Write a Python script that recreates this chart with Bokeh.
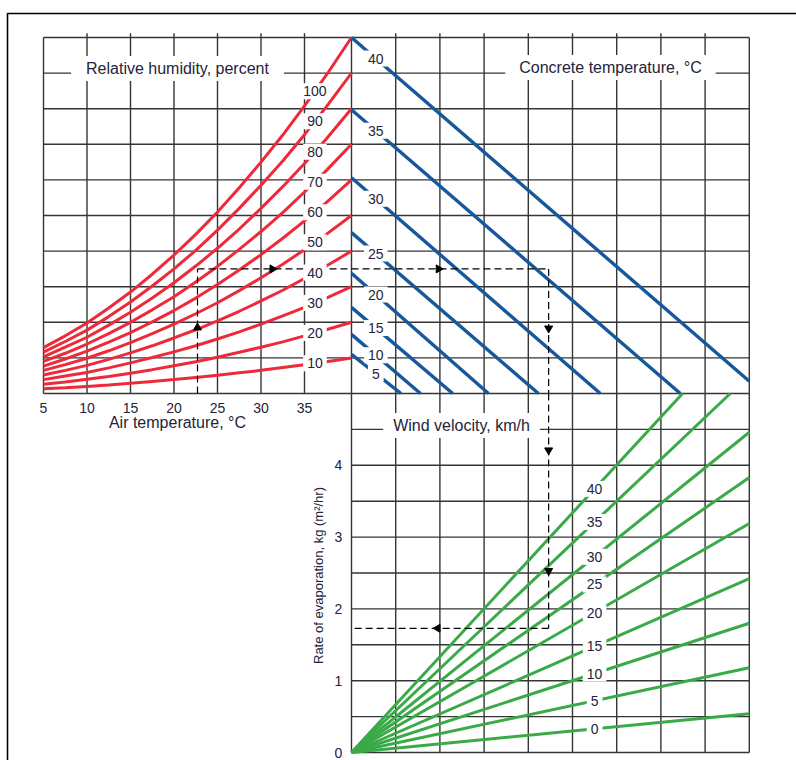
import math
import numpy as np
from bokeh.plotting import figure
from bokeh.models import Range1d
from bokeh.core.properties import value
from bokeh.embed import file_html
from bokeh.resources import INLINE

# ------------------------------------------------------------------ data
# upper-left quadrant: relative humidity curves (vapour scale, 0..10 grid units)
air_temp = [5, 7.5, 10, 12.5, 15, 17.5, 20, 22.5, 25, 27.5, 30, 32.5, 35, 37.5, 40.4]
rh_levels = [100, 90, 80, 70, 60, 50, 40, 30, 20, 10]
rh_100 = [1.29, 1.62, 1.98, 2.40, 2.85, 3.35, 3.89, 4.47, 5.10, 5.78, 6.50, 7.26, 8.08, 8.94, 10.0]
rh_90 = [1.16, 1.46, 1.78, 2.16, 2.57, 3.02, 3.50, 4.02, 4.59, 5.20, 5.85, 6.53, 7.27, 8.05, 9.0]
rh_80 = [1.03, 1.30, 1.58, 1.92, 2.28, 2.68, 3.11, 3.58, 4.08, 4.62, 5.20, 5.81, 6.46, 7.15, 8.0]
rh_70 = [0.90, 1.13, 1.39, 1.68, 2.00, 2.35, 2.72, 3.13, 3.57, 4.05, 4.55, 5.08, 5.66, 6.26, 7.0]
rh_60 = [0.77, 0.97, 1.19, 1.44, 1.71, 2.01, 2.33, 2.68, 3.06, 3.47, 3.90, 4.36, 4.85, 5.36, 6.0]
rh_50 = [0.65, 0.81, 0.99, 1.20, 1.43, 1.68, 1.95, 2.24, 2.55, 2.89, 3.25, 3.63, 4.04, 4.47, 5.0]
rh_40 = [0.52, 0.65, 0.79, 0.96, 1.14, 1.34, 1.56, 1.79, 2.04, 2.31, 2.60, 2.90, 3.23, 3.58, 4.0]
rh_30 = [0.39, 0.49, 0.59, 0.72, 0.86, 1.01, 1.17, 1.34, 1.53, 1.73, 1.95, 2.18, 2.42, 2.68, 3.0]
rh_20 = [0.26, 0.32, 0.40, 0.48, 0.57, 0.67, 0.78, 0.89, 1.02, 1.16, 1.30, 1.45, 1.62, 1.79, 2.0]
rh_10 = [0.13, 0.16, 0.20, 0.24, 0.29, 0.34, 0.39, 0.45, 0.51, 0.58, 0.65, 0.73, 0.81, 0.89, 1.0]
rh_curves = [rh_100, rh_90, rh_80, rh_70, rh_60, rh_50, rh_40, rh_30, rh_20, rh_10]
air_ticks = [5, 10, 15, 20, 25, 30, 35]

# upper-right quadrant: concrete temperature lines
concrete_temps = [40, 35, 30, 25, 20, 15, 10, 5]
concrete_start = [10.0, 7.97, 6.06, 4.52, 3.38, 2.42, 1.66, 1.10]   # value at the divider
concrete_zero = [9.32, 7.44, 5.63, 4.23, 3.10, 2.29, 1.56, 1.12]    # grid unit where line reaches 0

# lower-right quadrant: wind velocity lines (from origin)
wind_speeds = [0, 5, 10, 15, 20, 25, 30, 35, 40]
wind_end_grid = [9, 9, 9, 9, 9, 9, 9, 8.57, 7.49]
wind_end_rate = [0.54, 1.18, 1.80, 2.42, 3.19, 3.83, 4.46, 5.0, 5.0]
rate_ticks = [0, 1, 2, 3, 4]

# worked example (dashed path)
example_air = 22.7
example_level = 3.5
example_grid = 4.46
example_rate = 1.73

# ------------------------------------------------------------------ layout
PAGE = 0
W, H = 796, 760
DIV_PX, UNIT_PX = 351.0, 44.2
T5_PX, DEG_PX = 43.0, 8.7
V0_PX, V_PX = 393.0, 35.6
R0_PX, R_PX = 752.0, 71.8
x_lo, x_hi = PAGE, PAGE + W
y_top, y_bot = PAGE, PAGE + H


def u_of_px(px):
    return (px - DIV_PX) / UNIT_PX


def v_of_px(py):
    return (V0_PX - py) / V_PX


RED = "#ee2a3a"
BLUE = "#17579b"
GREEN = "#3aaa48"
GRID = "#353535"
TXT = "#24243a"
FONT = "Liberation Sans"

p = figure(width=W, height=H,
           x_range=Range1d(u_of_px(x_lo), u_of_px(x_hi)),
           y_range=Range1d(v_of_px(y_bot), v_of_px(y_top)),
           output_backend="svg", toolbar_location=None,
           x_axis_type=None, y_axis_type=None, min_border=0,
           outline_line_color=None, background_fill_color="white",
           border_fill_color="white")
p.extra_x_ranges = {"temp": Range1d(5 + (x_lo - T5_PX) / DEG_PX, 5 + (x_hi - T5_PX) / DEG_PX)}
p.extra_y_ranges = {"rate": Range1d((R0_PX - y_bot) / R_PX, (R0_PX - y_top) / R_PX)}

T_END = air_temp[-1]
NU = 9
NV = 10
NR = 5
STUB = 0.12

# ------------------------------------------------------------------ grid
g = dict(line_color=GRID, line_width=1.4)
# upper left
p.multi_line([[5, T_END]] * (NV + 1), [[k, k] for k in range(NV + 1)], x_range_name="temp", **g)
p.multi_line([[t, t] for t in air_ticks],
             [[0, NV if t == air_ticks[0] else NV + STUB] for t in air_ticks], x_range_name="temp", **g)
# upper right
p.multi_line([[0, NU]] * (NV + 1), [[k, k] for k in range(NV + 1)], **g)
p.multi_line([[k, k] for k in range(NU + 1)],
             [[0, NV if k in (0, NU) else NV + STUB] for k in range(NU + 1)], **g)
# lower right
p.multi_line([[0, NU]] * (2 * NR), [[k / 2, k / 2] for k in range(2 * NR)], y_range_name="rate", **g)
p.multi_line([[k, k] for k in range(NU + 1)], [[0, NR]] * (NU + 1), y_range_name="rate", **g)

# page frame
p.line([u_of_px(7)] * 2 + [u_of_px(x_hi)], [v_of_px(y_bot), v_of_px(13), v_of_px(13)],
       line_color="black", line_width=1.6)

# ------------------------------------------------------------------ curves
for vals in rh_curves:
    p.line(air_temp, vals, x_range_name="temp", line_color=RED, line_width=3)

blue_ends = []
for v0, u0 in zip(concrete_start, concrete_zero):
    if u0 > NU:
        end = (NU, v0 * (1 - NU / u0))
    else:
        end = (u0, 0.0)
    blue_ends.append(end)
    p.line([0, end[0]], [v0, end[1]], line_color=BLUE, line_width=3.4)

for ue, re in zip(wind_end_grid, wind_end_rate):
    p.line([0, ue], [0, re], y_range_name="rate", line_color=GREEN, line_width=3)

# ------------------------------------------------------------------ example path
d = dict(line_color="black", line_width=1.2, line_dash="7 4")
p.line([example_air, example_air], [0, example_level], x_range_name="temp", **d)
p.line([example_air, T_END], [example_level, example_level], x_range_name="temp", **d)
p.line([0, example_grid], [example_level, example_level], **d)
p.line([example_grid, example_grid], [example_level, 0], **d)
p.line([example_grid, example_grid], [NR, example_rate], y_range_name="rate", **d)
p.line([example_grid, 0], [example_rate, example_rate], y_range_name="rate", **d)

a = dict(marker="triangle", size=8, fill_color="black", line_color="black")
p.scatter([example_air], [1.85], x_range_name="temp", angle=0, **a)
p.scatter([31.3], [example_level], x_range_name="temp", angle=-math.pi / 2, **a)
p.scatter([1.97], [example_level], angle=-math.pi / 2, **a)
p.scatter([example_grid], [1.83], angle=math.pi, **a)
p.scatter([example_grid, example_grid], [4.21, 2.53], y_range_name="rate", angle=math.pi, **a)
p.scatter([1.95], [example_rate], y_range_name="rate", angle=math.pi / 2, **a)


# ------------------------------------------------------------------ labels
def labels(xs, ys, texts, size, bg=True, padx=4, pady=3, angle=0, **kw):
    extra = {}
    if bg:
        extra = dict(background_fill_color="white",
                     padding=dict(left=padx, right=padx, top=pady, bottom=pady))
    p.text(x=xs, y=ys, text=texts, angle=angle, text_font=value(FONT),
           text_font_size=value(f"{size}px"), text_color=TXT,
           text_align="center", text_baseline="middle", **extra, **kw)


RH_LABEL_T = 36.2
labels([RH_LABEL_T] * len(rh_levels),
       [float(np.interp(RH_LABEL_T, air_temp, c)) for c in rh_curves],
       [str(r) for r in rh_levels], 14, x_range_name="temp")

BL_U = 0.55
labels([BL_U] * len(concrete_temps),
       [v0 + (e[1] - v0) * BL_U / e[0] for v0, e in zip(concrete_start, blue_ends)],
       [str(t) for t in concrete_temps], 14)

GL_U = 5.5
labels([GL_U] * len(wind_speeds),
       [re * GL_U / ue for ue, re in zip(wind_end_grid, wind_end_rate)],
       [str(w) for w in wind_speeds], 14, y_range_name="rate")

labels(air_ticks, [v_of_px(407)] * len(air_ticks), [str(t) for t in air_ticks], 14,
       bg=False, x_range_name="temp")
labels([u_of_px(338)] * len(rate_ticks), rate_ticks,
       [str(r) for r in rate_ticks], 14, bg=False, y_range_name="rate")

labels([20.4], [v_of_px(68)], ["Relative humidity, percent"], 16, padx=15, pady=4,
       x_range_name="temp")
labels([u_of_px(610)], [v_of_px(67)], ["Concrete temperature, °C"], 16, padx=14, pady=4)
labels([20.4], [v_of_px(422)], ["Air temperature, °C"], 16, bg=False, x_range_name="temp")
labels([u_of_px(461)], [(R0_PX - 425) / R_PX], ["Wind velocity, km/h"], 16, padx=10, pady=4,
       y_range_name="rate")
labels([u_of_px(318)], [(R0_PX - 575) / R_PX], ["Rate of evaporation, kg (m²/hr)"], 13,
       bg=False, angle=math.pi / 2, y_range_name="rate")

open("out.html", "w").write(file_html(p, INLINE))
